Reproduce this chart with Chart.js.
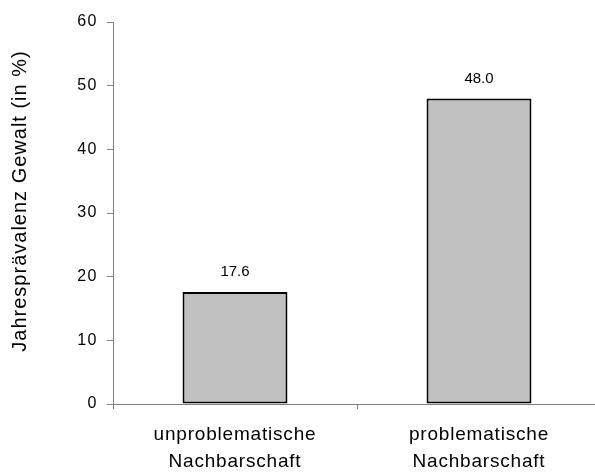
<!DOCTYPE html>
<html>
<head>
<meta charset="utf-8">
<script src="https://cdn.jsdelivr.net/npm/chart.js@4/dist/chart.umd.min.js"></script>
<style>
  html, body { margin: 0; padding: 0; background: #fff; overflow: hidden; }
  #wrap { width: 610px; height: 476px; }
</style>
</head>
<body>
<div id="wrap"><canvas id="chart" width="610" height="476"></canvas></div>
<script>
const categories = [
  ['unproblematische', 'Nachbarschaft'],
  ['problematische', 'Nachbarschaft'],
];
const prevalence = [17.6, 48.0];
const yTitle = 'Jahresprävalenz Gewalt (in %)';

const FONT = '"Liberation Sans", Arial, sans-serif';
const AXIS_GRAY = '#808080';

// value labels above the bars
const valueLabels = {
  id: 'valueLabels',
  afterDatasetsDraw(chart) {
    const ctx = chart.ctx;
    const meta = chart.getDatasetMeta(0);
    ctx.save();
    ctx.font = '15px ' + FONT;
    ctx.fillStyle = '#000';
    ctx.textAlign = 'center';
    ctx.textBaseline = 'middle';
    meta.data.forEach((bar, i) => {
      ctx.fillText(prevalence[i].toFixed(1), bar.x, bar.y - 20);
    });
    ctx.restore();
  },
};

// the original's text is a bit spaced out; wrap the scale draw calls
function spaced(scale, method, spacing, dy) {
  const orig = scale[method].bind(scale);
  scale[method] = function (...args) {
    this.ctx.save();
    this.ctx.letterSpacing = spacing;
    if (dy) this.ctx.translate(0, dy);
    orig(...args);
    this.ctx.restore();
  };
}

const spacedText = {
  id: 'spacedText',
  beforeDraw(chart) {
    if (chart._spaced) return;
    spaced(chart.scales.x, 'drawLabels', '0.8px');
    spaced(chart.scales.y, 'drawLabels', '1.5px');
    spaced(chart.scales.y, 'drawTitle', '1px', -12);
    chart._spaced = true;
  },
};

new Chart(document.getElementById('chart'), {
  type: 'bar',
  data: {
    labels: categories,
    datasets: [{
      data: prevalence,
      backgroundColor: '#c0c0c0',
      borderColor: '#000',
      borderWidth: 2,
      borderSkipped: false,
      barPercentage: 0.43,
      categoryPercentage: 1,
    }],
  },
  options: {
    responsive: false,
    animation: false,
    events: [],
    layout: { padding: { top: 22, right: 9, left: 0, bottom: 0 } },
    plugins: {
      legend: { display: false },
      tooltip: { enabled: false },
    },
    scales: {
      x: {
        grid: {
          offset: true,
          drawOnChartArea: false,
          drawTicks: true,
          tickLength: 5,
          color: AXIS_GRAY,
        },
        border: { color: AXIS_GRAY, width: 1 },
        ticks: {
          color: '#000',
          font: { family: FONT, size: 19, lineHeight: 1.42 },
          padding: 12,
          maxRotation: 0,
          autoSkip: false,
        },
        afterFit(scale) { scale.height = 72; },
      },
      y: {
        min: 0,
        max: 60,
        grid: {
          drawOnChartArea: false,
          drawTicks: true,
          tickLength: 6,
          color: AXIS_GRAY,
        },
        border: { color: AXIS_GRAY, width: 1 },
        ticks: {
          stepSize: 10,
          color: '#000',
          font: { family: FONT, size: 16 },
          padding: 9,
        },
        title: {
          display: true,
          text: yTitle,
          color: '#000',
          font: { family: FONT, size: 20 },
          padding: { top: 8, bottom: 0 },
        },
        afterFit(scale) { scale.width = 113; },
      },
    },
  },
  plugins: [valueLabels, spacedText],
});
</script>
</body>
</html>
